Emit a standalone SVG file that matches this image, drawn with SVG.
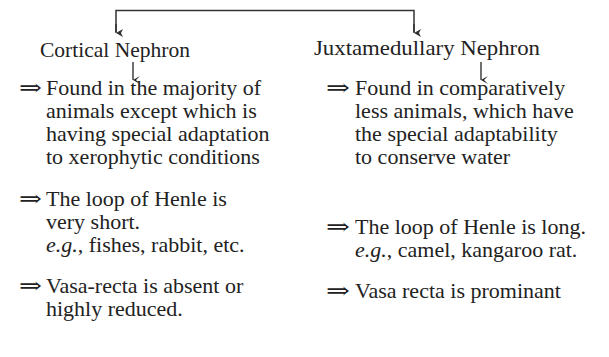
<svg xmlns="http://www.w3.org/2000/svg" width="609" height="357" viewBox="0 0 609 357">
<defs>
<marker id="ah" markerWidth="8" markerHeight="8" refX="4" refY="7" orient="auto" markerUnits="userSpaceOnUse">
<path d="M0,0 L4,7 L8,0 L4,2 Z" fill="#333"/>
</marker>
<marker id="vh" markerWidth="10" markerHeight="10" refX="5" refY="8" orient="auto" markerUnits="userSpaceOnUse">
<path d="M1,1 L5,8 L9,1 L5,5 Z" fill="#222"/>
</marker>
</defs>
<style>
text{font-family:"Liberation Serif","Times New Roman",serif;font-size:22px;fill:#222}
.it{font-style:italic}
.dbl{font-family:"DejaVu Serif","DejaVu Sans",serif;font-size:22px}
.con{fill:none;stroke:#333;stroke-width:1.5}
.dn{fill:none;stroke:#222;stroke-width:1.3}
</style>
<rect width="609" height="357" fill="#fff"/>
<g id="connectors">
<path class="con" d="M116,32 V10.5 H414 V32" />
<path class="con" d="M116,24 V33" marker-end="url(#ah)"/>
<path class="con" d="M414,24 V33" marker-end="url(#ah)"/>
<path class="dn" d="M133,62 V80" marker-end="url(#vh)"/>
<path class="dn" d="M481,62 V80" marker-end="url(#vh)"/>
</g>
<g id="cortical">
<text x="40" y="57" textLength="150" lengthAdjust="spacingAndGlyphs">Cortical Nephron</text>
<text class="dbl" x="19" y="95" textLength="23" lengthAdjust="spacingAndGlyphs">⇒</text>
<text x="46" y="95">Found in the majority of</text>
<text x="46" y="118">animals except which is</text>
<text x="46" y="141">having special adaptation</text>
<text x="46" y="164">to xerophytic conditions</text>
<text class="dbl" x="19" y="206" textLength="23" lengthAdjust="spacingAndGlyphs">⇒</text>
<text x="46" y="206">The loop of Henle is</text>
<text x="46" y="229">very short.</text>
<text x="46" y="252"><tspan class="it">e.g.</tspan>, fishes, rabbit, etc.</text>
<text class="dbl" x="19" y="293" textLength="23" lengthAdjust="spacingAndGlyphs">⇒</text>
<text x="46" y="293">Vasa-recta is absent or</text>
<text x="46" y="316">highly reduced.</text>
</g>
<g id="juxtamedullary">
<text x="314" y="55" textLength="226" lengthAdjust="spacingAndGlyphs">Juxtamedullary Nephron</text>
<text class="dbl" x="326" y="95" textLength="24" lengthAdjust="spacingAndGlyphs">⇒</text>
<text x="355" y="95">Found in comparatively</text>
<text x="355" y="118">less animals, which have</text>
<text x="355" y="141">the special adaptability</text>
<text x="355" y="164">to conserve water</text>
<text class="dbl" x="326" y="234" textLength="24" lengthAdjust="spacingAndGlyphs">⇒</text>
<text x="355" y="234">The loop of Henle is long.</text>
<text x="355" y="257"><tspan class="it">e.g.</tspan>, camel, kangaroo rat.</text>
<text class="dbl" x="326" y="298" textLength="24" lengthAdjust="spacingAndGlyphs">⇒</text>
<text x="355" y="298">Vasa recta is prominant</text>
</g>
</svg>
